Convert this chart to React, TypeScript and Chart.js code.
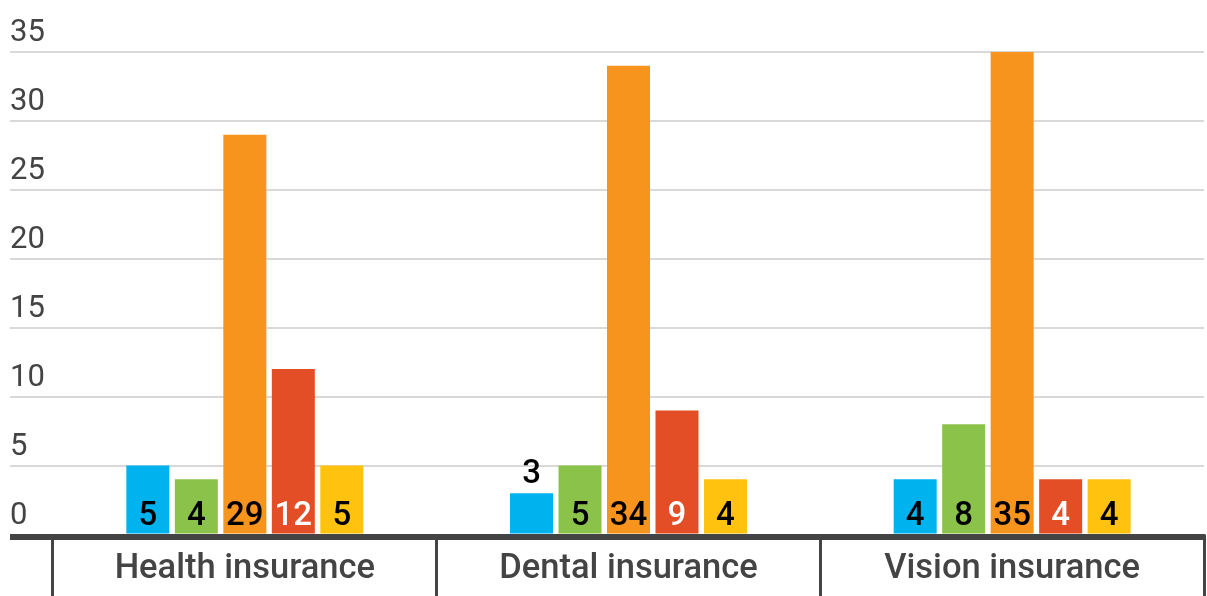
import React, { useEffect, useRef } from "react";
import { Chart, registerables } from "chart.js";

Chart.register(...registerables);

const categories = ["Health insurance", "Dental insurance", "Vision insurance"];
const seriesNames = ["Series A", "Series B", "Series C", "Series D", "Series E"];
const seriesA = [5, 3, 4];
const seriesB = [4, 5, 8];
const seriesC = [29, 34, 35];
const seriesD = [12, 9, 4];
const seriesE = [5, 4, 4];
const seriesColors = ["#00B2EE", "#8BC34A", "#F7941D", "#E44E27", "#FFC20E"];
const labelColors = ["#000000", "#000000", "#000000", "#FFFFFF", "#000000"];
const yTicks = [0, 5, 10, 15, 20, 25, 30, 35];

const AXIS_COLOR = "#444444";
const GRID_COLOR = "#D9D9D9";

const customPlugin = {
  id: "customDraw",
  afterDatasetsDraw(chart: any) {
    const ctx = chart.ctx;
    const area = chart.chartArea;
    const y = chart.scales.y;
    ctx.save();
    // axis baseline
    ctx.fillStyle = AXIS_COLOR;
    ctx.fillRect(10, area.bottom - 0.5, area.right - 10 + 1.5, 6);
    // y tick labels, above gridlines, left aligned
    ctx.font = "400 31px Roboto";
    ctx.fillStyle = AXIS_COLOR;
    ctx.textAlign = "left";
    ctx.textBaseline = "alphabetic";
    yTicks.forEach((v) => {
      const py = y.getPixelForValue(v);
      ctx.fillText(String(v), 10, py - 11);
    });
    // data labels
    ctx.font = "500 33px Roboto";
    ctx.textAlign = "center";
    chart.data.datasets.forEach((ds: any, di: number) => {
      const meta = chart.getDatasetMeta(di);
      meta.data.forEach((bar: any, i: number) => {
        const val = ds.data[i];
        const h = bar.base - bar.y;
        if (h >= 45) {
          ctx.fillStyle = labelColors[di];
          ctx.fillText(String(val), bar.x, bar.base - 9);
        } else {
          ctx.fillStyle = "#000000";
          ctx.fillText(String(val), bar.x, bar.y - 10);
        }
      });
    });
    ctx.restore();
  },
};

export default function App() {
  const ref = useRef<HTMLCanvasElement>(null);
  useEffect(() => {
    if (!ref.current) return;
    const data = [seriesA, seriesB, seriesC, seriesD, seriesE];
    const chart = new Chart(ref.current, {
      type: "bar",
      data: {
        labels: categories,
        datasets: data.map((d, i) => ({
          label: seriesNames[i],
          data: d,
          backgroundColor: seriesColors[i],
          borderWidth: 0,
          categoryPercentage: 0.632,
          barPercentage: 0.887,
        })),
      },
      options: {
        responsive: false,
        animation: false,
        devicePixelRatio: 1,
        layout: { padding: { top: 52, left: 10, right: 3, bottom: 0 } },
        plugins: {
          legend: { display: false },
          tooltip: { enabled: false },
          title: { display: false },
        },
        scales: {
          x: {
            offset: true,
            border: { display: false },
            grid: {
              offset: true,
              drawOnChartArea: false,
              drawTicks: true,
              tickLength: 62,
              color: AXIS_COLOR,
              lineWidth: 3,
            },
            ticks: {
              padding: -48,
              color: AXIS_COLOR,
              font: { family: "Roboto", size: 34.5, weight: "500" },
              maxRotation: 0,
              autoSkip: false,
            },
            afterFit: (scale: any) => {
              scale.height = 61.5;
            },
          },
          y: {
            min: 0,
            max: 35,
            border: { display: false },
            ticks: { display: false, stepSize: 5 },
            grid: {
              drawTicks: true,
              tickLength: 43,
              color: (ctx: any) => (ctx.tick && ctx.tick.value === 0 ? "rgba(0,0,0,0)" : GRID_COLOR),
              lineWidth: 2,
            },
            afterFit: (scale: any) => {
              scale.width = 43;
            },
          },
        },
      },
      plugins: [customPlugin],
    });
    return () => chart.destroy();
  }, []);
  return (
    <div style={{ position: "fixed", left: 0, top: 0, width: 1207, height: 596, background: "#fff" }}>
      <canvas ref={ref} width={1207} height={596} />
    </div>
  );
}
